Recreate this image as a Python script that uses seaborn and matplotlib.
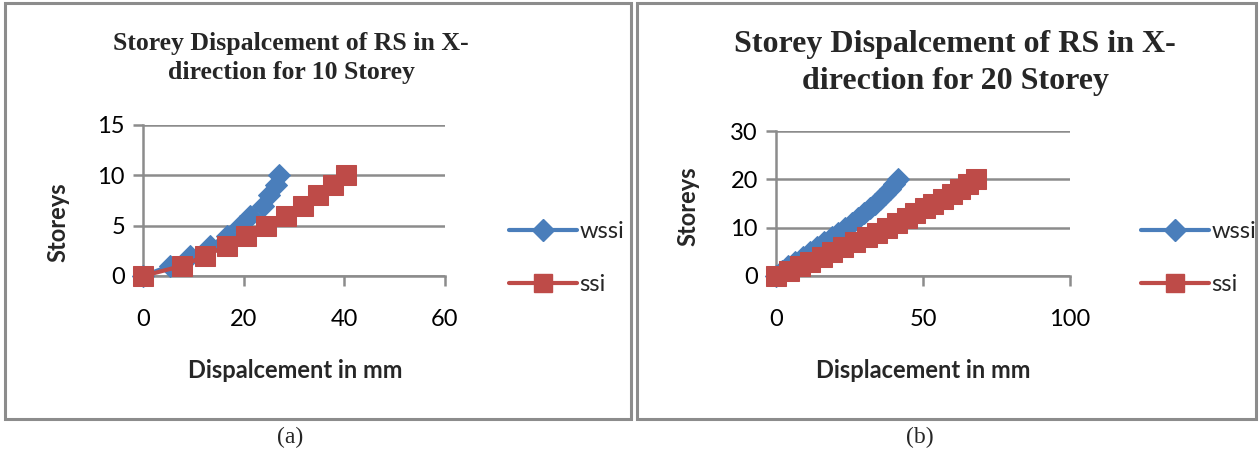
import matplotlib
matplotlib.use("Agg")
import matplotlib.pyplot as plt
from matplotlib.lines import Line2D
from matplotlib.patches import Rectangle
import seaborn as sns
import pandas as pd

# ---- data ----
storeys_10 = list(range(0, 11))
wssi_10 = [0, 5.3, 9.3, 13.3, 16.6, 19.2, 21.2, 23.8, 25.1, 26.5, 27.1]
ssi_10 = [0, 7.7, 12.3, 16.6, 20.5, 24.5, 28.4, 31.7, 34.7, 37.7, 40.3]

storeys_20 = list(range(0, 21))
wssi_20 = [0, 2.1, 4.2, 6.6, 9.2, 11.5, 13.8, 16.3, 18.9, 21.2, 23.5,
           25.8, 28.0, 30.0, 32.0, 33.8, 35.4, 37.2, 38.8, 40.3, 41.6]
ssi_20 = [0, 4.5, 8.2, 11.6, 15.5, 18.9, 22.9, 26.9, 30.8, 34.2, 37.6,
          41.0, 44.4, 47.3, 50.7, 53.5, 56.7, 59.7, 62.6, 65.4, 68.0]

series_names = ["wssi", "ssi"]
titles = ["Storey Dispalcement of RS in X-\ndirection for 10 Storey",
          "Storey Dispalcement of RS in X-\ndirection for 20 Storey"]
xlabels = ["Dispalcement in mm", "Displacement in mm"]
ylabel = "Storeys"
captions = ["(a)", "(b)"]
xticks_a = [0, 20, 40, 60]
yticks_a = [0, 5, 10, 15]
xticks_b = [0, 50, 100]
yticks_b = [0, 10, 20, 30]

BLUE = "#4A7EBB"
RED = "#BE4B48"
GRID = "#8C8C8C"

sns.set_theme(style="white")
plt.rcParams["font.family"] = ["Lato", "DejaVu Sans"]

W, H = 1260, 450
fig = plt.figure(figsize=(12.6, 4.5), dpi=100)

def fx(px):
    return px / W

def fy(py):
    return 1 - py / H

# panel borders
for (x0, x1) in [(5, 631), (637, 1256)]:
    fig.patches.append(Rectangle((fx(x0), fy(419)), fx(x1 - x0), (419 - 3) / H,
                                 transform=fig.transFigure, fill=False,
                                 edgecolor="#8C8C8C", linewidth=2.2))

def make_panel(rect, storeys, wssi, ssi, xticks, yticks, title, xlabel,
               title_xy, title_size, xlabel_xy, ylabel_xy, legend_xy, caption_xy, caption):
    ax = fig.add_axes(rect)
    df = pd.DataFrame({"disp": wssi + ssi,
                       "storey": storeys + storeys,
                       "series": [series_names[0]] * len(wssi) + [series_names[1]] * len(ssi)})
    sub_w = df[df.series == "wssi"]
    sub_s = df[df.series == "ssi"]
    sns.lineplot(data=sub_w, x="disp", y="storey", sort=False, ax=ax,
                 color=BLUE, linewidth=3, marker="D", markersize=11.5,
                 markeredgecolor=BLUE, zorder=3)
    sns.lineplot(data=sub_s, x="disp", y="storey", sort=False, ax=ax,
                 color=RED, linewidth=3, marker="s", markersize=14,
                 markeredgecolor=RED, zorder=4)
    ax.set_xlim(xticks[0], xticks[-1])
    ax.set_ylim(yticks[0], yticks[-1])
    ax.set_xticks(xticks)
    ax.set_yticks(yticks)
    ax.set_xlabel("")
    ax.set_ylabel("")
    for s in ["top", "right"]:
        ax.spines[s].set_visible(False)
    for s in ["left", "bottom"]:
        ax.spines[s].set_color(GRID)
        ax.spines[s].set_linewidth(1.8)
    ax.grid(axis="y", color=GRID, linewidth=1.8)
    ax.set_axisbelow(True)
    ax.tick_params(axis="both", which="both", length=7, width=1.8, color=GRID,
                   labelsize=17, labelcolor="black", direction="out",
                   left=True, bottom=True)
    ax.tick_params(axis="x", pad=17)
    ax.tick_params(axis="y", pad=6)
    for lab in ax.get_xticklabels() + ax.get_yticklabels():
        lab.set_fontfamily(["Lato", "DejaVu Sans"])
    ax.patch.set_alpha(0)
    for line in ax.lines:
        line.set_clip_on(False)

    fig.text(fx(title_xy[0]), fy(title_xy[1]), title, ha="center", va="center",
             fontsize=title_size, fontweight="bold", family=["Liberation Serif", "DejaVu Serif"],
             linespacing=1.32)
    fig.text(fx(xlabel_xy[0]), fy(xlabel_xy[1]), xlabel, ha="center", va="center",
             fontsize=17, fontweight="bold")
    fig.text(fx(ylabel_xy[0]), fy(ylabel_xy[1]), ylabel, ha="center", va="center",
             fontsize=17, fontweight="bold", rotation=90)
    fig.text(fx(caption_xy[0]), fy(caption_xy[1]), caption, ha="center", va="center",
             fontsize=17, family=["Liberation Serif", "DejaVu Serif"])

    handles = [Line2D([0], [0], color=BLUE, linewidth=3, marker="D", markersize=11),
               Line2D([0], [0], color=RED, linewidth=3, marker="s", markersize=13)]
    fig.legend(handles, series_names, loc="center left",
               bbox_to_anchor=(fx(legend_xy[0]), fy(legend_xy[1])),
               frameon=False, fontsize=17, handlelength=2.9, labelspacing=1.35,
               handletextpad=0.1, borderpad=0)
    return ax

make_panel([fx(143), fy(276), fx(445 - 143), (276 - 125) / H],
           storeys_10, wssi_10, ssi_10, xticks_a, yticks_a, titles[0], xlabels[0],
           title_xy=(291, 58), title_size=18.5, xlabel_xy=(295, 370), ylabel_xy=(58, 222),
           legend_xy=(497, 258), caption_xy=(290, 437), caption=captions[0])

make_panel([fx(776), fy(276), fx(1070 - 776), (276 - 131) / H],
           storeys_20, wssi_20, ssi_20, xticks_b, yticks_b, titles[1], xlabels[1],
           title_xy=(955, 63), title_size=23, xlabel_xy=(923, 370), ylabel_xy=(688, 206),
           legend_xy=(1129, 258), caption_xy=(920, 437), caption=captions[1])

fig.savefig("out.png", dpi=100)
